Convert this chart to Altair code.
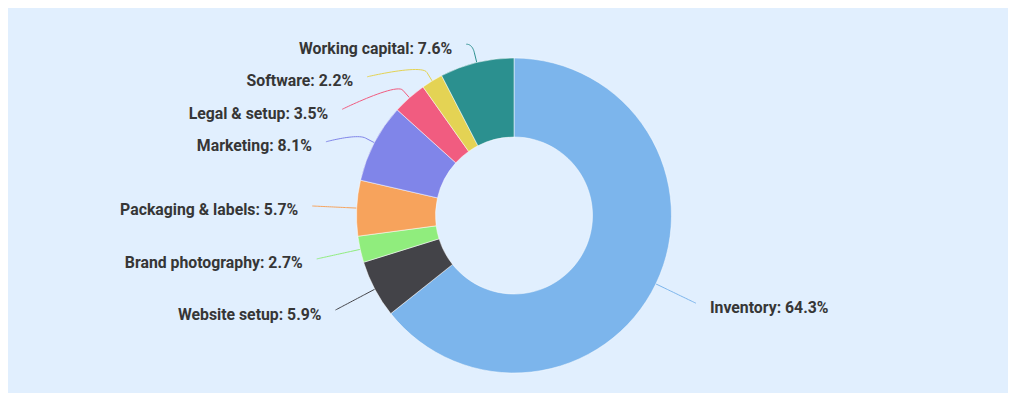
import math
import altair as alt
import pandas as pd

# ---- data ----
categories = ["Inventory", "Website setup", "Brand photography", "Packaging & labels",
              "Marketing", "Legal & setup", "Software", "Working capital"]
shares = [64.3, 5.9, 2.7, 5.7, 8.1, 3.5, 2.2, 7.6]
colors = ["#7cb5ec", "#434348", "#90ed7d", "#f7a35c",
          "#8085e9", "#f15c80", "#e4d354", "#2b908f"]

# ---- layout constants ----
BG = "#e1effe"
W, H = 1000, 385
CX, CY = 506, 207.5
R_OUT, R_IN = 157.5, 78.5
R_LABEL = 202
BREAK = 10
GAP = 32.5
TOP = 36.3
TEXT_OFF = 14

total = sum(shares)
info = []
cum = 0.0
for i, (c, v) in enumerate(zip(categories, shares)):
    mid = (cum + v / 2) / total * 2 * math.pi
    cum += v
    s, co = math.sin(mid), math.cos(mid)
    side = 1 if s >= 0 else -1
    info.append(dict(idx=i, category=c, value=v, s=s, co=co, side=side,
                     ny=CY - R_LABEL * co))

# distribute labels on each side
for side in (1, -1):
    pts = sorted([p for p in info if p["side"] == side], key=lambda p: p["ny"])
    prev = None
    for p in pts:
        y = max(p["ny"], TOP) if prev is None else max(p["ny"], prev + GAP)
        p["ly"] = y
        prev = y
for p in info:
    yx = p["ny"] if abs(p["ly"] - TOP) < 2 else p["ly"]
    dy = yx - CY
    p["lx"] = CX + p["side"] * math.sqrt(max(R_LABEL ** 2 - dy ** 2, 0))

# connectors (soft curves)
conn_rows = []
for p in info:
    ex, ey = CX + R_OUT * p["s"], CY - R_OUT * p["co"]
    bx, by = CX + (R_OUT + BREAK) * p["s"], CY - (R_OUT + BREAK) * p["co"]
    p0 = (p["lx"], p["ly"])
    p1 = p0
    p2 = (2 * bx - ex, 2 * by - ey)
    p3 = (bx, by)
    n = 24
    for k in range(n + 1):
        t = k / n
        a = (1 - t) ** 3
        b = 3 * (1 - t) ** 2 * t
        c = 3 * (1 - t) * t ** 2
        d = t ** 3
        conn_rows.append(dict(category=p["category"], k=k,
                              px=a * p0[0] + b * p1[0] + c * p2[0] + d * p3[0],
                              py=a * p0[1] + b * p1[1] + c * p2[1] + d * p3[1]))
    conn_rows.append(dict(category=p["category"], k=n + 1, px=ex, py=ey))

pie_df = pd.DataFrame({"idx": range(len(categories)), "category": categories, "value": shares})
conn_df = pd.DataFrame(conn_rows)
lab_df = pd.DataFrame([dict(category=p["category"], value=p["value"], side=p["side"],
                            tx=p["lx"] + p["side"] * TEXT_OFF, ty=p["ly"] + 4.5)
                       for p in info])

color_scale = alt.Scale(domain=categories, range=colors)

arcs = alt.Chart(pie_df).mark_arc(
    innerRadius=R_IN, outerRadius=R_OUT, stroke="#ffffff", strokeWidth=0.5
).encode(
    theta=alt.Theta("value:Q", stack=True),
    color=alt.Color("category:N", scale=color_scale, legend=None),
    order=alt.Order("idx:Q"),
    x=alt.value(CX),
    y=alt.value(CY),
)

connectors = alt.Chart(conn_df).mark_line(strokeWidth=1).encode(
    x=alt.X("px:Q", scale=None, axis=None),
    y=alt.Y("py:Q", scale=None, axis=None),
    color=alt.Color("category:N", scale=color_scale, legend=None),
    detail="category:N",
    order="k:Q",
)

base_lab = alt.Chart(lab_df).transform_calculate(
    label="datum.category + ': ' + format(datum.value, '.1f') + '%'"
)
text_style = dict(font="Roboto", fontSize=15.8, fontWeight="bold", color="#363636",
                  baseline="middle")
left_labels = base_lab.transform_filter("datum.side < 0").mark_text(
    align="right", **text_style
).encode(
    x=alt.X("tx:Q", scale=None, axis=None),
    y=alt.Y("ty:Q", scale=None, axis=None),
    text="label:N",
)
right_labels = base_lab.transform_filter("datum.side > 0").mark_text(
    align="left", **text_style
).encode(
    x=alt.X("tx:Q", scale=None, axis=None),
    y=alt.Y("ty:Q", scale=None, axis=None),
    text="label:N",
)

chart = alt.layer(connectors, arcs, left_labels, right_labels).properties(
    width=W, height=H, background=BG, padding=0,
    autosize=alt.AutoSizeParams(type="none"),
).configure_view(stroke=None)

chart.save("out.html", embed_options={"renderer": "svg", "actions": False})
